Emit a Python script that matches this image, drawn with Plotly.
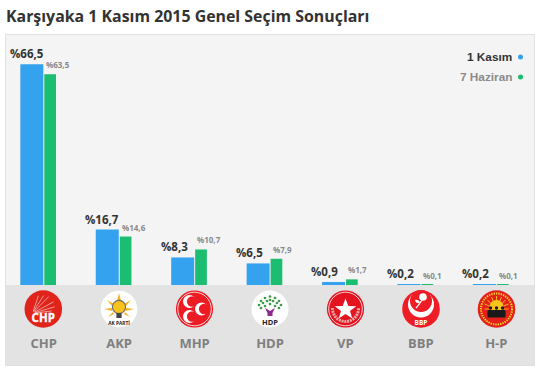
import base64
import plotly.graph_objects as go

parties = ["CHP", "AKP", "MHP", "HDP", "VP", "BBP", "H-P"]
kasim = [66.5, 16.7, 8.3, 6.5, 0.9, 0.2, 0.2]
haziran = [63.5, 14.6, 10.7, 7.9, 1.7, 0.1, 0.1]
kasim_labels = ["%66,5", "%16,7", "%8,3", "%6,5", "%0,9", "%0,2", "%0,2"]
haziran_labels = ["%63,5", "%14,6", "%10,7", "%7,9", "%1,7", "%0,1", "%0,1"]

W, H = 542, 373
BLUE, GREEN = "#34a2ee", "#1bbd70"
px = lambda x: x / W
py = lambda y: 1 - y / H
X0, X1, YB, YT = 6, 534, 285, 35


def svg_uri(body):
    s = f'<svg xmlns="http://www.w3.org/2000/svg" width="40" height="40" viewBox="0 0 40 40">{body}</svg>'
    return "data:image/svg+xml;base64," + base64.b64encode(s.encode()).decode()


T = 'font-family="Open Sans" font-weight="700" text-anchor="middle"'
crescent = lambda cx, cy, r, ix, iy, ir, col, bg: (
    f'<circle cx="{cx}" cy="{cy}" r="{r}" fill="{col}"/><circle cx="{ix}" cy="{iy}" r="{ir}" fill="{bg}"/>')
leaves = [(11, 12), (15, 9), (20, 7.5), (25, 9), (29, 12), (9, 16), (13, 14), (17, 12), (23, 12), (27, 14), (31, 16),
          (11, 19), (15, 17), (20, 15), (25, 17), (29, 19), (20, 11)]
logos = {
    "CHP": '<circle cx="20" cy="20" r="18.8" fill="#e0241b"/>'
           '<g stroke="#fff" stroke-width="0.6" stroke-linecap="round" opacity=".9">'
           '<path d="M10 22 L15 7"/><path d="M10.5 22 L20 7"/><path d="M11 22.5 L25 8"/><path d="M11.5 23 L30 13"/><path d="M12 23.5 L31 18"/><path d="M12 24 L28 22"/></g>'
           f'<text x="20" y="33" font-size="11.5" {T} fill="#fff" stroke="#fff" stroke-width=".3">CHP</text>',
    "AKP": '<circle cx="20" cy="20" r="18.3" fill="#fff"/>'
           '<g fill="#f6b21a"><path d="M20 4 L22 12 L18 12Z"/><path d="M8 11 L15 15 L13 17Z"/><path d="M32 11 L25 15 L27 17Z"/><path d="M5 20 L13 19 L13 22Z"/><path d="M35 20 L27 19 L27 22Z"/><path d="M9 28 L14 23 L15 25Z"/><path d="M31 28 L26 23 L25 25Z"/></g>'
           '<circle cx="20" cy="18" r="6.6" fill="#f6c21e" stroke="#6b6b6b" stroke-width="1.1"/><rect x="17.4" y="24" width="5.2" height="5" fill="#444"/>'
           f'<text x="20" y="35.5" font-size="4.8" {T} fill="#222">AK PARTİ</text>',
    "MHP": '<circle cx="20" cy="20" r="18.6" fill="#ed1c24"/><circle cx="20" cy="20" r="16.8" fill="none" stroke="#fff" stroke-width="0.8"/>'
           + crescent(15, 12.5, 6.5, 17.6, 12.5, 5.2, "#fff", "#ed1c24")
           + crescent(15, 27.5, 6.5, 17.6, 27.5, 5.2, "#fff", "#ed1c24")
           + crescent(27, 20, 6.5, 29.6, 20, 5.2, "#fff", "#ed1c24"),
    "HDP": '<circle cx="20" cy="20" r="18.5" fill="#fff"/><g fill="#3f9a47">'
           + "".join(f'<circle cx="{a}" cy="{b}" r="1.35"/>' for a, b in leaves)
           + '</g><path d="M15 19 L20 22 L25 19 L22.5 24 L22.5 27 L17.5 27 L17.5 24Z" fill="#8a2a8e"/>'
           f'<text x="20" y="35.5" font-size="7.5" {T} fill="#222">HDP</text>',
    "VP": '<circle cx="20" cy="20" r="18.6" fill="#e3131f"/><circle cx="20" cy="20" r="16.8" fill="none" stroke="#fff" stroke-width="0.8"/>'
          '<path d="M7 19 A13 13 0 0 0 20 32.5 A13 13 0 0 0 33 19" fill="none" stroke="#e8a9a9" stroke-width="3" stroke-dasharray="2 .8"/>'
          '<path d="M20 9.5 L22.8 17 L30.8 17.2 L24.5 22 L26.8 29.5 L20 25 L13.2 29.5 L15.5 22 L9.2 17.2 L17.2 17Z" fill="#fff"/>',
    "BBP": '<circle cx="20" cy="20" r="18.8" fill="#ee1c25"/>'
           + crescent(20, 15.5, 13, 20, 12, 11, "#fff", "#ee1c25")
           + '<circle cx="22" cy="8" r="3.8" fill="#fff"/><path d="M21 11 Q18 16 15 19" stroke="#fff" stroke-width="1.2" fill="none"/><path d="M14 11 Q18 10 19 14 Q15 15 14 11Z" fill="#fff"/>'
           f'<text x="20" y="35.5" font-size="6.5" {T} fill="#fff">BBP</text>',
    "H-P": '<circle cx="20" cy="20" r="18.8" fill="#e3201c"/><circle cx="20" cy="20" r="15.5" fill="none" stroke="#f5d21a" stroke-width="2" stroke-dasharray="1.4 1"/>'
           '<g stroke="#f6c51d" stroke-width=".9"><path d="M8 20 H32"/><path d="M20 7 V20"/><path d="M11 11 L20 20"/><path d="M29 11 L20 20"/><path d="M15 8 L20 20"/><path d="M25 8 L20 20"/><path d="M8 15 L20 20"/><path d="M32 15 L20 20"/></g>'
           '<circle cx="20" cy="18" r="7" fill="#f6c51d"/>'
           '<g fill="#1a1a1a"><circle cx="14" cy="19" r="1.7"/><circle cx="20" cy="19" r="1.7"/><circle cx="26" cy="19" r="1.7"/><rect x="11" y="21" width="18" height="7.5" rx="1"/></g>',
}
logo_cx = [43.3, 119, 194.5, 270, 345.5, 421, 496.5]

fig = go.Figure()
fig.add_bar(x=parties, y=kasim, marker_color=BLUE, marker_line_width=0, offset=-0.31, width=0.305, name="1 Kasım")
fig.add_bar(x=parties, y=haziran, marker_color=GREEN, marker_line_width=0, offset=0.008, width=0.155, name="7 Haziran")

ann = []
for p, v, l in zip(parties, kasim, kasim_labels):
    ann.append(dict(x=p, y=v, text=f"<b>{l}</b>", xshift=-36, yshift=1, xanchor="left", yanchor="bottom", showarrow=False,
                    font=dict(family="Open Sans", size=11.5, color="#333333")))
for p, v, l in zip(parties, haziran, haziran_labels):
    ann.append(dict(x=p, y=v, text=f"<b>{l}</b>", xshift=0.5, yshift=2, xanchor="left", yanchor="bottom", showarrow=False,
                    font=dict(family="Open Sans", size=8, color="#8a8a8a")))
ann.append(dict(xref="paper", yref="paper", x=px(4), y=py(16), xanchor="left", yanchor="middle", showarrow=False,
                text="<b>Karşıyaka 1 Kasım 2015 Genel Seçim Sonuçları</b>",
                font=dict(family="Open Sans", size=15.9, color="#333333")))
ann.append(dict(xref="paper", yref="paper", x=px(514), y=py(57), xanchor="right", yanchor="middle", showarrow=False,
                text="<b>1 Kasım</b>", font=dict(family="Liberation Sans", size=11.8, color="#333333")))
ann.append(dict(xref="paper", yref="paper", x=px(514), y=py(77), xanchor="right", yanchor="middle", showarrow=False,
                text="<b>7 Haziran</b>", font=dict(family="Liberation Sans", size=11.8, color="#8a8a8a")))

def rect(x0, y0, x1, y1, fill, line=None):
    return dict(type="rect", xref="paper", yref="paper", x0=px(x0), x1=px(x1), y0=py(y0), y1=py(y1),
                fillcolor=fill, line=dict(color=line, width=1) if line else dict(width=0), layer="below")

shapes = [rect(5.5, 34.5, 534.5, 365.5, "#f4f4f4", "#e1e1e1"), rect(6, 285, 534, 365, "#e3e3e3")]
for cy, col in ((57, BLUE), (77, GREEN)):
    shapes.append(dict(type="circle", xref="paper", yref="paper", x0=px(518), x1=px(523), y0=py(cy - 2.5), y1=py(cy + 2.5),
                       fillcolor=col, line=dict(width=0)))

images = [dict(source=svg_uri(logos[p]), xref="paper", yref="paper", x=px(cx), y=py(309), sizex=40 / W, sizey=40 / H,
               xanchor="center", yanchor="middle", layer="above", sizing="stretch")
          for p, cx in zip(parties, logo_cx)]

fig.update_layout(
    width=W, height=H, margin=dict(l=0, r=0, t=0, b=0), paper_bgcolor="#ffffff", plot_bgcolor="rgba(0,0,0,0)",
    barmode="overlay", showlegend=False, annotations=ann, shapes=shapes, images=images,
    xaxis=dict(domain=[px(X0), px(X1)], range=[-0.5, 6.5], type="category", categoryorder="array", categoryarray=parties,
               showgrid=False, zeroline=False, showline=False, ticks="outside", ticklen=46, tickcolor="rgba(0,0,0,0)",
               tickfont=dict(family="Open Sans", size=13, color="#7f7f7f"), tickprefix="<b>", ticksuffix="</b>", anchor="y"),
    yaxis=dict(domain=[py(YB), py(YT)], range=[0, 250 / 3.32], visible=False),
)
fig.write_html("out.html", config=dict(displayModeBar=False), post_script="document.body.style.margin='0';")
